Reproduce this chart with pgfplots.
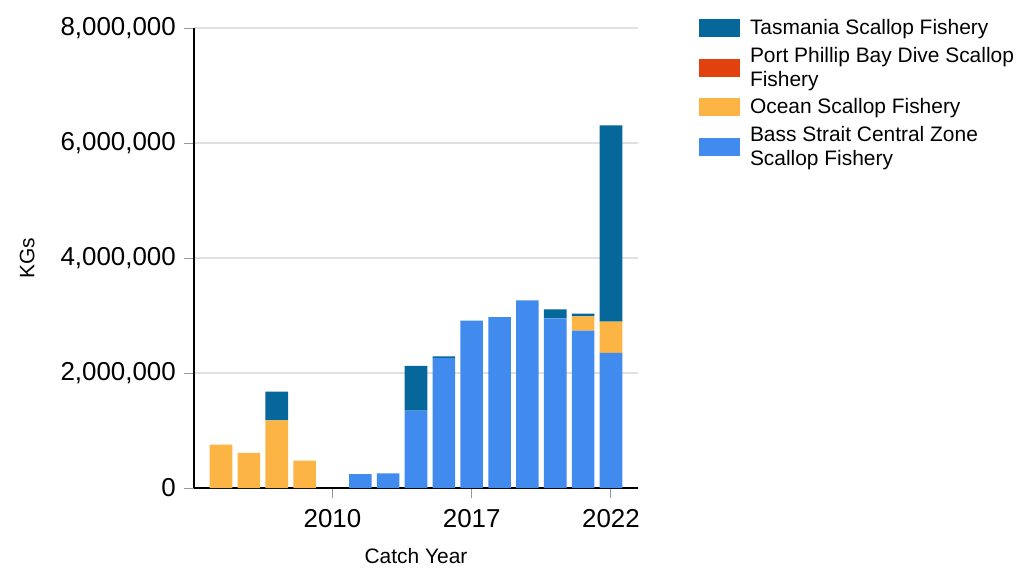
\documentclass[border=0pt]{standalone}
\usepackage{fontspec}
\setmainfont{Liberation Sans}
\usepackage{pgfplots}
\pgfplotsset{compat=1.18}
\definecolor{tas}{HTML}{05679A}
\definecolor{ppb}{HTML}{E1420D}
\definecolor{ocean}{HTML}{FCB444}
\definecolor{bass}{HTML}{418BEF}
\begin{document}
\begin{tikzpicture}
\path[use as bounding box] (0bp,0bp) rectangle (1017bp,-568bp);
\begin{axis}[
  at={(194bp,-488bp)}, anchor=south west,
  scale only axis, width=444bp, height=460bp,
  ybar stacked, bar width=0.81,
  xmin=-0.97, xmax=14.97, ymin=0, ymax=8000000,
  xtick={4,9,14}, xticklabels={2010,2017,2022},
  ytick={0,2000000,4000000,6000000,8000000},
  scaled y ticks=false,
  /pgf/number format/.cd, fixed, 1000 sep={,}, assume math mode=true, /pgfplots/.cd,
  axis x line*=bottom, axis y line*=left,
  axis line style={-, line width=2.5bp, black},
  tick align=outside, major tick length=10bp,
  tick style={color=black!40, line width=1bp},
  ymajorgrids, major grid style={line width=2.5bp, color=black!12},
  tick label style={font=\fontsize{26}{30}\selectfont},
  xticklabel style={inner ysep=11bp},
  yticklabel style={inner xsep=8bp},
  xlabel={Catch Year}, ylabel={KGs},
  every axis x label/.style={at={(axis description cs:0.5,-0.147)}, anchor=center, font=\fontsize{21}{25}\selectfont},
  every axis y label/.style={at={(axis description cs:-0.376,0.5)}, rotate=90, anchor=center, font=\fontsize{21}{25}\selectfont},
  every axis plot post/.append style={draw=none,
    legend image code/.code={\fill[##1,draw=none] (0bp,-9bp) rectangle (41bp,9bp);}},
  reverse legend,
  legend style={draw=none, fill=none, inner sep=0pt, outer sep=0pt,
    at={(1.1374,1.0196)}, anchor=north west,
    font=\fontsize{21}{24}\selectfont,
    cells={anchor=west, align=left},
    nodes={inner sep=0pt, text depth=0.2em},
    column sep=10bp, row sep=10bp},
]
\addplot[fill=bass] coordinates {(0,0) (1,0) (2,0) (3,0) (4,0) (5,243000) (6,254000) (7,1344000) (8,2260000) (9,2910000) (10,2974000) (11,3263000) (12,2950000) (13,2736000) (14,2348000)};
\addlegendentry{Bass Strait Central Zone\\Scallop Fishery}
\addplot[fill=ocean] coordinates {(0,753000) (1,610000) (2,1176000) (3,475000) (4,0) (5,0) (6,0) (7,0) (8,0) (9,0) (10,0) (11,0) (12,0) (13,248000) (14,544000)};
\addlegendentry{Ocean Scallop Fishery}
\addplot[fill=ppb] coordinates {(0,0) (1,0) (2,0) (3,0) (4,0) (5,0) (6,0) (7,0) (8,0) (9,0) (10,0) (11,0) (12,0) (13,0) (14,0)};
\addlegendentry{Port Phillip Bay Dive Scallop\\Fishery}
\addplot[fill=tas] coordinates {(0,0) (1,0) (2,499000) (3,0) (4,0) (5,0) (6,0) (7,778000) (8,28000) (9,0) (10,0) (11,0) (12,156000) (13,47000) (14,3414000)};
\addlegendentry{Tasmania Scallop Fishery}
\end{axis}
\end{tikzpicture}
\end{document}
